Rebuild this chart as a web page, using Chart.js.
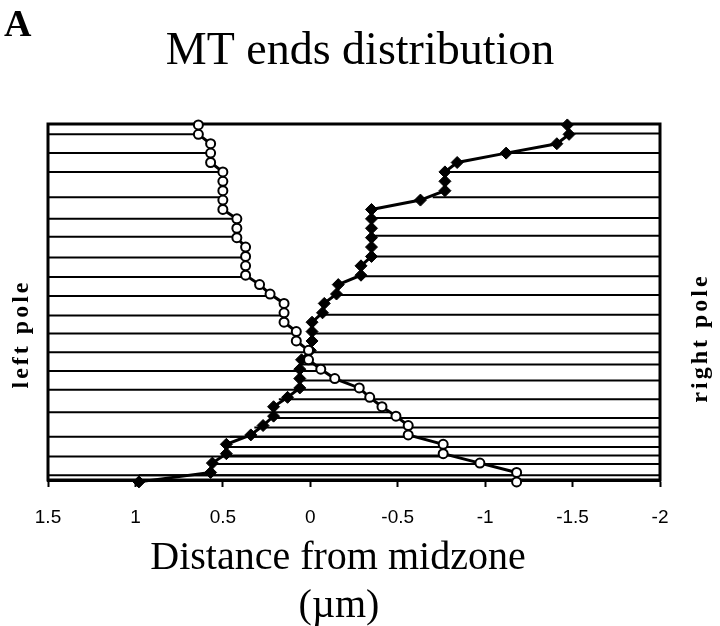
<!DOCTYPE html>
<html>
<head>
<meta charset="utf-8">
<title>MT ends distribution</title>
<script src="https://cdn.jsdelivr.net/npm/chart.js@4"></script>
<style>
  html, body { margin: 0; padding: 0; background: #fff; }
  canvas { display: block; }
</style>
</head>
<body>
<canvas id="myChart" width="720" height="626"></canvas>
<script>
// MT end positions (um from midzone), ranked from bottom (1) to top (39)
const leftPole = [
  -1.18, -1.18, -0.97, -0.76, -0.76, -0.56, -0.56, -0.49, -0.41, -0.34,
  -0.28, -0.14, -0.06, 0.01, 0.01, 0.08, 0.08, 0.15, 0.15, 0.15,
  0.23, 0.29, 0.37, 0.37, 0.37, 0.37, 0.42, 0.42, 0.42, 0.50,
  0.50, 0.50, 0.50, 0.50, 0.57, 0.57, 0.57, 0.64, 0.64
];
const rightPole = [
  0.98, 0.57, 0.56, 0.48, 0.48, 0.34, 0.27, 0.21, 0.21, 0.13,
  0.06, 0.06, 0.06, 0.05, 0.00, -0.01, -0.01, -0.01, -0.07, -0.08,
  -0.15, -0.16, -0.29, -0.29, -0.35, -0.35, -0.35, -0.35, -0.35, -0.35,
  -0.63, -0.77, -0.77, -0.77, -0.84, -1.12, -1.41, -1.48, -1.47
];
const xTicks = [1.5, 1, 0.5, 0, -0.5, -1, -1.5, -2];

// horizontal MT lines: from the left pole to an end, and from an end to the right pole
const leftLineY   = [38.0, 36.0, 34.0, 31.3, 29.0, 27.1, 24.9, 22.8, 20.8, 18.7,
                     16.8, 14.8, 12.8, 10.8, 8.4, 5.8, 3.7, 1.7];
const leftLineEnd = [0.64, 0.57, 0.50, 0.50, 0.42, 0.42, 0.37, 0.37, 0.23, 0.15,
                     0.08, 0.01, -0.06, -0.28, -0.45, -0.56, -0.76, -1.18];
const rightLineY     = [38.1, 36.0, 34.0, 31.3, 29.1, 27.2, 25.0, 22.9, 20.9, 18.8,
                        16.8, 14.8, 13.5, 11.8, 9.8, 7.8, 6.8, 5.8, 4.7, 3.8,
                        2.9, 1.7];
const rightLineStart = [-1.48, -1.12, -0.77, -0.70, -0.35, -0.35, -0.35, -0.29, -0.15, -0.07,
                        -0.01, 0.00, 0.05, 0.06, 0.18, 0.23, 0.32, 0.46, 0.48, 0.48,
                        0.56, 0.98];

const X_MIN = -2, X_MAX = 1.5;

const lineSets = [];
leftLineY.forEach((y, i) => {
  lineSets.push({
    data: [{x: X_MAX, y: y}, {x: leftLineEnd[i], y: y}],
    showLine: true, borderColor: '#000', borderWidth: 2, pointRadius: 0, order: 2
  });
});
rightLineY.forEach((y, i) => {
  lineSets.push({
    data: [{x: rightLineStart[i], y: y}, {x: X_MIN, y: y}],
    showLine: true, borderColor: '#000', borderWidth: 2, pointRadius: 0, order: 2
  });
});

const data = {
  datasets: [
    {
      label: 'left pole',
      data: leftPole.map((x, i) => ({x: x, y: i + 1})),
      showLine: true,
      borderColor: '#000',
      borderWidth: 3,
      pointStyle: 'circle',
      pointRadius: 4.5,
      pointBorderWidth: 2,
      pointBackgroundColor: '#fff',
      pointBorderColor: '#000',
      clip: false,
      order: 0
    },
    {
      label: 'right pole',
      data: rightPole.map((x, i) => ({x: x, y: i + 1})),
      showLine: true,
      borderColor: '#000',
      borderWidth: 3,
      pointStyle: 'rectRot',
      pointRadius: 6,
      pointBorderWidth: 1,
      pointBackgroundColor: '#000',
      pointBorderColor: '#000',
      clip: false,
      order: 1
    },
    ...lineSets
  ]
};

// box around the plot
const frame = {
  id: 'frame',
  beforeDatasetsDraw(chart) {
    const {ctx, chartArea: a} = chart;
    ctx.save();
    ctx.strokeStyle = '#000';
    ctx.lineWidth = 3;
    ctx.strokeRect(a.left, a.top, a.right - a.left, a.bottom - a.top);
    ctx.restore();
  }
};

// panel letter, title, pole labels and axis title
const texts = {
  id: 'texts',
  afterDraw(chart) {
    const ctx = chart.ctx;
    ctx.save();
    ctx.fillStyle = '#000';
    ctx.textBaseline = 'alphabetic';

    ctx.textAlign = 'left';
    ctx.font = 'bold 38px "Liberation Serif"';
    ctx.fillText('A', 4, 36);

    ctx.textAlign = 'center';
    ctx.font = '46px "Liberation Serif"';
    ctx.fillText('MT ends distribution', 360, 64);

    ctx.font = '40px "Liberation Serif"';
    ctx.fillText('Distance from midzone', 338, 569);
    ctx.fillText('(\u00b5m)', 339, 617);

    ctx.font = 'bold 24px "Liberation Serif"';
    ctx.textBaseline = 'middle';
    ctx.letterSpacing = '3px';
    [['left pole', 22, 334], ['right pole', 701, 338]].forEach(([t, x, y]) => {
      ctx.save();
      ctx.translate(x, y);
      ctx.rotate(-Math.PI / 2);
      ctx.fillText(t, 0, 0);
      ctx.restore();
    });
    ctx.restore();
  }
};

const config = {
  type: 'scatter',
  data: data,
  options: {
    responsive: false,
    animation: false,
    layout: { padding: { top: 124, left: 48, right: 60, bottom: 0 } },
    plugins: {
      legend: { display: false },
      tooltip: { enabled: false },
      title: { display: false }
    },
    scales: {
      x: {
        type: 'linear',
        reverse: true,
        min: X_MIN,
        max: X_MAX,
        afterFit: (s) => { s.height = 146; },
        afterBuildTicks: (s) => { s.ticks = xTicks.map(v => ({value: v})); },
        ticks: {
          color: '#000',
          padding: 19,
          font: { family: '"Liberation Sans", Arial', size: 19 },
          callback: (v) => String(v)
        },
        grid: {
          drawOnChartArea: false,
          drawTicks: true,
          tickLength: 7,
          tickWidth: 2,
          tickColor: '#000'
        },
        border: { display: true, color: '#000', width: 3 }
      },
      y: {
        type: 'linear',
        display: false,
        min: 1.2,
        max: 39.1
      }
    }
  },
  plugins: [frame, texts]
};

const myChart = new Chart(document.getElementById('myChart'), config);
</script>
</body>
</html>
